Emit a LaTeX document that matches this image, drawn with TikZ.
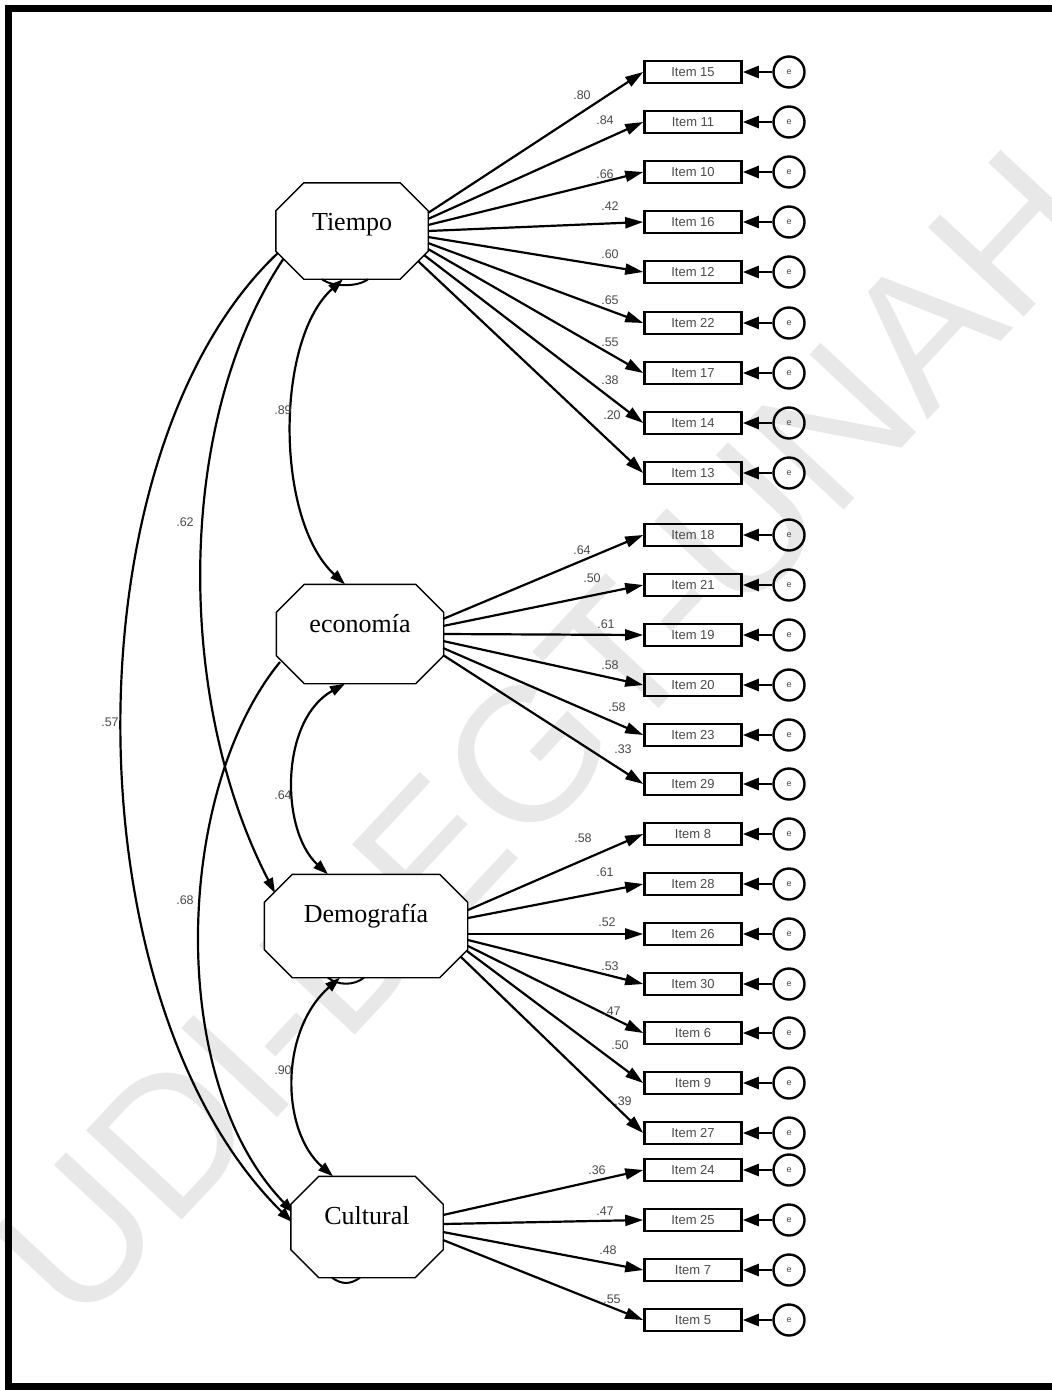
\documentclass[tikz,border=0pt]{standalone}
\usepackage{fontspec}
\setmainfont{Liberation Serif}
\newfontfamily\arialf{Liberation Sans}
\usetikzlibrary{arrows.meta}
\definecolor{txtgray}{HTML}{4A4A4A}
\definecolor{wmgray}{HTML}{E8E8E8}
\newcommand\drawocta[2]{%
  \draw[line width=1.4pt, fill=white]
    ([xshift=#2]#1.north west) -- ([xshift=-#2]#1.north east) --
    ([yshift=-#2]#1.north east) -- ([yshift=#2]#1.south east) --
    ([xshift=-#2]#1.south east) -- ([xshift=#2]#1.south west) --
    ([yshift=#2]#1.south west) -- ([yshift=-#2]#1.north west) -- cycle;}
\begin{document}
\begin{tikzpicture}[x=1pt,y=-1pt,
  itembox/.style={draw, line width=2.6pt, minimum width=97pt, minimum height=22pt,
    inner sep=0pt, font=\arialf\fontsize{13}{13}\selectfont, text=txtgray},
  errc/.style={draw, circle, line width=2.4pt, minimum size=31pt, inner sep=0pt,
    font=\arialf\fontsize{9}{9}\selectfont, text=txtgray},
  latent/.style={inner sep=0pt},
  lattext/.style={anchor=base, inner sep=0pt, font=\fontsize{26}{26}\selectfont},
  load/.style={line width=2.2pt, -{Triangle[length=18pt,width=11pt]}},
  errarrow/.style={line width=2.6pt, -{Triangle[length=16pt,width=12pt]}},
  corrtip/.style={line width=2.2pt, -{Triangle[length=15pt,width=10pt]}},
  corr2/.style={line width=2.2pt, {Triangle[length=15pt,width=10pt]}-{Triangle[length=15pt,width=10pt]}},
  coef/.style={inner sep=0pt, font=\arialf\fontsize{12.5}{12.5}\selectfont, text=txtgray},
  frame/.style={line width=7pt}
]
\useasboundingbox (0,0) rectangle (1052,1390);
\fill[white] (0,0) rectangle (1052,1390);

% watermark
\node[rotate=47, text=wmgray, inner sep=0pt,
  font=\arialf\fontsize{190}{190}\selectfont] (wm) at (545,735) {UDI-DEGT-UNAH};

% frame
\draw[frame] (8.5,8.5) rectangle (1120,1386.5);

% items and error terms
\foreach \n/\y in {15/72,11/122,10/172,16/222,12/272,22/323,17/373,14/423,13/473,
                   18/535,21/585,19/635,20/685,23/735,29/784,
                   8/834,28/884,26/934,30/984,6/1033,9/1083,27/1133,
                   24/1170,25/1220,7/1270,5/1320}{
  \node[itembox] (it\n) at (693,\y) {Item \n};
  \node[errc] (er\n) at (789,\y) {e};
  \draw[errarrow] (er\n) -- (it\n);
}

% latent variables (invisible frames)
\node[latent, minimum width=152pt, minimum height=96pt] (T) at (352,231) {};
\node[latent, minimum width=167pt, minimum height=99pt] (E) at (360,634) {};
\node[latent, minimum width=203pt, minimum height=103pt] (D) at (366,926) {};
\node[latent, minimum width=152pt, minimum height=101pt] (C) at (367,1227) {};

% correlations (long curves)
\draw[corrtip] ([xshift=-68pt,yshift=-27pt]T.center) .. controls (175,420) and (175,700) .. ([xshift=-91pt,yshift=33pt]D.center);
\draw[corrtip] ([xshift=-73pt,yshift=-21pt]T.center) .. controls (67,450) and (67,1000) .. ([xshift=-75pt,yshift=5pt]C.center);
\draw[corrtip] ([xshift=-80pt,yshift=-28pt]E.center) .. controls (175,790) and (165,1080) .. ([xshift=-73pt,yshift=14pt]C.center);

% correlations (adjacent)
\draw[corr2] ([xshift=-9pt]T.south) .. controls (275,340) and (275,520) .. ([xshift=-15pt]E.north);
\draw[corr2] ([xshift=-15pt]E.south) .. controls (280,720) and (280,830) .. ([xshift=-38pt]D.north);
\draw[corr2] ([xshift=-26pt]D.south) .. controls (280,1030) and (280,1130) .. ([xshift=-34pt]C.north);

% octagons
\drawocta{T}{28pt}
\drawocta{E}{28pt}
\drawocta{D}{28pt}
\drawocta{C}{28pt}

% small arcs below
\draw[line width=2pt] ([xshift=-30pt]T.south) .. controls +(10pt,-8pt) and +(-10pt,-8pt) .. ([xshift=16pt]T.south);
\draw[line width=2pt] ([xshift=-38pt]D.south) .. controls +(10pt,-8pt) and +(-10pt,-8pt) .. ([xshift=-2pt]D.south);
\draw[line width=2pt] ([xshift=-35pt]C.south) .. controls +(10pt,-7pt) and +(-10pt,-7pt) .. ([xshift=-7pt]C.south);

\node[lattext] (Tt) at ([yshift=1pt]T.center) {Tiempo};
\node[lattext] (Et) at ([yshift=1.5pt]E.center) {economía};
\node[lattext] (Dt) at ([yshift=3.5pt]D.center) {Demografía};
\node[lattext] (Ct) at ([yshift=2.5pt]C.center) {Cultural};

% loadings: Tiempo
\foreach \n/\dx/\dy/\lx/\ly/\v in {15/76/-18/582/95/.80, 11/76/-12/605/120/.84,
   10/76/-6/605/174/.66, 16/76/0/610/206/.42, 12/76/6/610/254/.60,
   22/76/12/610/300/.65, 17/76/18/610/342/.55, 14/72/24/610/380/.38,
   13/66/30/612/415/.20}{
  \draw[load] ([xshift=\dx pt,yshift=-\dy pt]T.center) -- (it\n.west);
  \node[coef] (lT\n) at (\lx,\ly) {\v};
}
% loadings: economia
\foreach \n/\dy/\lx/\ly/\v in {18/-15/582/550/.64, 21/-8/592/578/.50, 19/0/606/624/.61,
   20/7/610/665/.58, 23/14/617/707/.58, 29/21/623/749/.33}{
  \draw[load] ([xshift=83pt,yshift=-\dy pt]E.center) -- (it\n.west);
  \node[coef] (lE\n) at (\lx,\ly) {\v};
}
% loadings: Demografia
\foreach \n/\dx/\dy/\lx/\ly/\v in {8/102/-16/583/838/.58, 28/102/-8/605/872/.61,
   26/102/8/607/922/.52, 30/102/14/610/966/.53, 6/102/20/612/1011/.47,
   9/101/25/620/1045/.50, 27/95/31/623/1101/.39}{
  \draw[load] ([xshift=\dx pt,yshift=-\dy pt]D.center) -- (it\n.west);
  \node[coef] (lD\n) at (\lx,\ly) {\v};
}
% loadings: Cultural
\foreach \n/\dy/\lx/\ly/\v in {24/-12/597/1170/.36, 25/-3/605/1211/.47,
   7/5/608/1250/.48, 5/13/612/1299/.55}{
  \draw[load] ([xshift=76pt,yshift=-\dy pt]C.center) -- (it\n.west);
  \node[coef] (lC\n) at (\lx,\ly) {\v};
}

% correlation labels
\node[coef] (r1) at (283,410) {.89};
\node[coef] (r2) at (185,522) {.62};
\node[coef] (r3) at (110,722) {.57};
\node[coef] (r4) at (283,795) {.64};
\node[coef] (r5) at (185,900) {.68};
\node[coef] (r6) at (283,1070) {.90};
\end{tikzpicture}
\end{document}
